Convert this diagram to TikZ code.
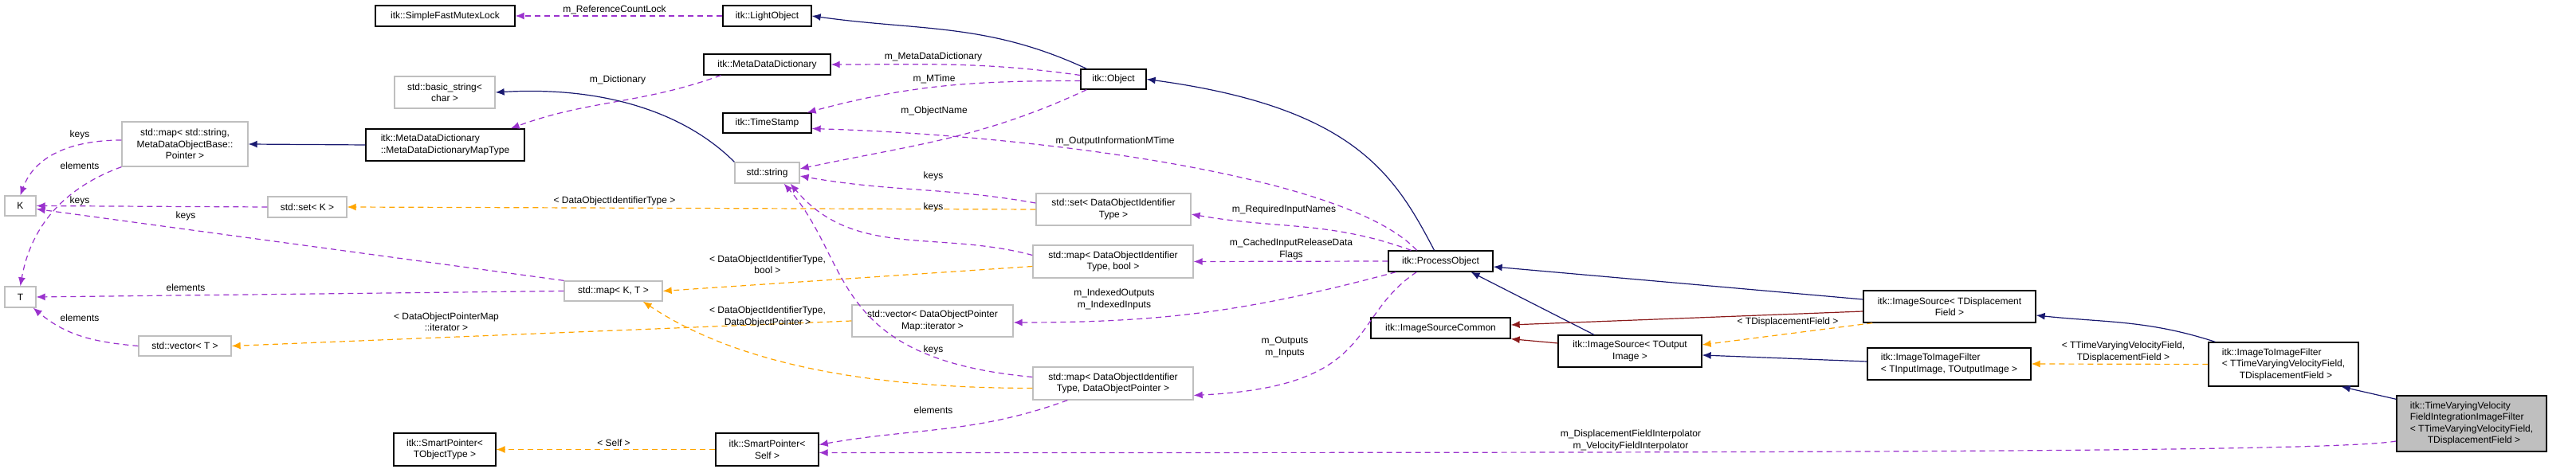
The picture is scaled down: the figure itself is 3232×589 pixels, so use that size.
\documentclass[tikz,border=0pt]{standalone}
\usepackage{fontspec}
\setmainfont{Liberation Sans}
\usetikzlibrary{arrows.meta}
\definecolor{pc}{HTML}{9A32CD}
\definecolor{oc}{HTML}{FFA500}
\definecolor{nc}{HTML}{191970}
\definecolor{rc}{HTML}{8B1A1A}
\definecolor{gc}{HTML}{BFBFBF}
\newcommand\mkbox[7]{\node[#6,minimum width={#4-#2},minimum height={#5-#3}] (#1) at ({(#2+#4)/2},{589-(#3+#5)/2}) {#7};}
\newcommand\mklbl[4]{\node[lbl] (#1) at (#2,{589-#3}) {#4};}
\begin{document}
\begin{tikzpicture}[x=1pt,y=1pt,
  every node/.style={font=\fontsize{12}{14.5}\selectfont,inner sep=0pt,align=center},
  bb/.style={draw=black,line width=1.3pt},
  gb/.style={draw=gc,line width=1.3pt},
  tb/.style={draw=black,line width=1.3pt,fill=gc},
  lbl/.style={},
  tip/.style={-{Latex[length=11pt,width=9pt]}},
  pe/.style={tip,draw=pc,color=pc,line width=1.2pt,dash pattern=on 7pt off 5pt},
  oe/.style={tip,draw=oc,color=oc,line width=1.2pt,dash pattern=on 7pt off 5pt},
  ne/.style={tip,draw=nc,color=nc,line width=1.2pt},
  re/.style={tip,draw=rc,color=rc,line width=1.2pt}]
\useasboundingbox (0,0) rectangle (3232,589);
% nodes
\mkbox{sfml}{471}{7}{646}{33}{bb}{itk::SimpleFastMutexLock}
\mkbox{bs}{495}{96}{621}{136}{gb}{std::basic\_string\textless\\char \textgreater}
\mkbox{smap}{153}{153}{311}{209}{gb}{std::map\textless{} std::string,\\MetaDataObjectBase::\\Pointer \textgreater}
\mkbox{mdd2}{459}{162}{658}{202}{bb,align=left}{\hspace*{0pt}itk::MetaDataDictionary\\::MetaDataDictionaryMapType}
\mkbox{k}{6}{246}{45}{271}{gb}{K}
\mkbox{t}{6}{360}{45}{386}{gb}{T}
\mkbox{setk}{336}{247}{435}{273}{gb}{std::set\textless{} K \textgreater}
\mkbox{vect}{174}{422}{290}{447}{gb}{std::vector\textless{} T \textgreater}
\mkbox{spt}{494}{544}{622}{585}{bb}{itk::SmartPointer\textless\\TObjectType \textgreater}
\mkbox{mapkt}{708}{353}{831}{378}{gb}{std::map\textless{} K, T \textgreater}
\mkbox{lo}{907}{7}{1018}{33}{bb}{itk::LightObject}
\mkbox{mdd}{883}{68}{1042}{94}{bb}{itk::MetaDataDictionary}
\mkbox{obj}{1356}{87}{1438}{112}{bb}{itk::Object}
\mkbox{ts}{907}{142}{1018}{167}{bb}{itk::TimeStamp}
\mkbox{str}{922}{204}{1003}{230}{gb}{std::string}
\mkbox{setd}{1300}{243}{1494}{283}{gb}{std::set\textless{} DataObjectIdentifier\\Type \textgreater}
\mkbox{mapb}{1296}{308}{1497}{349}{gb}{std::map\textless{} DataObjectIdentifier\\Type, bool \textgreater}
\mkbox{vecd}{1069}{383}{1271}{423}{gb}{std::vector\textless{} DataObjectPointer\\Map::iterator \textgreater}
\mkbox{mapd}{1296}{461}{1497}{502}{gb}{std::map\textless{} DataObjectIdentifier\\Type, DataObjectPointer \textgreater}
\mkbox{spself}{898}{544}{1027}{585}{bb}{itk::SmartPointer\textless\\Self \textgreater}
\mkbox{po}{1742}{315}{1873}{341}{bb}{itk::ProcessObject}
\mkbox{isc}{1720}{399}{1895}{425}{bb}{itk::ImageSourceCommon}
\mkbox{iso}{1955}{421}{2135}{461}{bb}{itk::ImageSource\textless{} TOutput\\Image \textgreater}
\mkbox{isd}{2338}{365}{2554}{405}{bb}{itk::ImageSource\textless{} TDisplacement\\Field \textgreater}
\mkbox{itf}{2343}{437}{2548}{477}{bb,align=left}{itk::ImageToImageFilter\\\textless{} TInputImage, TOutputImage \textgreater}
\mkbox{itf2}{2771}{430}{2959}{485}{bb,align=left}{itk::ImageToImageFilter\\\textless{} TTimeVaryingVelocityField,\\\hspace*{22pt}TDisplacementField \textgreater}
\mkbox{tv}{3007}{497}{3195}{567}{tb,align=left}{itk::TimeVaryingVelocity\\FieldIntegrationImageFilter\\\textless{} TTimeVaryingVelocityField,\\\hspace*{22pt}TDisplacementField \textgreater}
% edges
\draw[pe] (lo.west) -- (sfml.east);
\draw[ne] ([xshift=8]obj.north west) to[out=155,in=-8] (lo.east);
\draw[pe] ([yshift=5]obj.west) to[out=172,in=0] (mdd.east);
\draw[pe] ([yshift=-2]obj.west) to[out=180,in=15] ([xshift=-6]ts.north east);
\draw[pe] ([xshift=8]obj.south west) to[out=205,in=12] ([yshift=5]str.east);
\draw[pe] ([xshift=22]mdd.south west) to[out=200,in=20] ([xshift=-18]mdd2.north east);
\draw[ne] (str.north west) .. controls +(-60,60) and +(140,8) .. (bs.east);
\draw[ne] (mdd2.west) -- (smap.east);
\draw[pe] ([yshift=5]smap.west) to[out=180,in=70] (k.north);
\draw[pe] (smap.south west) to[out=200,in=80] (t.north);
\draw[pe] (setk.west) -- (k.east);
\draw[pe] (mapkt.north west) -- ([yshift=-4]k.east);
\draw[pe] (mapkt.west) -- (t.east);
\draw[pe] (vect.west) to[out=175,in=-40] ([xshift=-4]t.south east);
\draw[oe] (setd.west) -- (setk.east);
\draw[pe] ([yshift=8]setd.west) to[out=170,in=-10] ([yshift=-4]str.east);
\draw[pe] ([yshift=8]mapb.west) to[out=165,in=-50] ([xshift=-12]str.south east);
\draw[oe] ([yshift=-6]mapb.west) -- (mapkt.east);
\draw[oe] ([yshift=-6]mapd.west) .. controls +(-200,0) and +(120,-80) .. ([xshift=-25]mapkt.south east);
\draw[oe] (vecd.west) -- (vect.east);
\draw[pe] ([yshift=8]mapd.west) .. controls (1040,{589-450}) and (1070,{589-330}) .. ([xshift=-20]str.south east);
\draw[pe] ([xshift=44]mapd.south west) to[out=200,in=10] ([yshift=6]spself.east);
\draw[oe] (spself.west) -- (spt.east);
\draw[ne] ([xshift=-8]po.north) .. controls (1750,{589-220}) and (1700,{589-135}) .. (obj.east);
\draw[pe] ([xshift=-30]po.north) .. controls (1690,{589-220}) and (1300,{589-170}) .. ([yshift=-7]ts.east);
\draw[pe] ([xshift=-37]po.north) to[out=160,in=-10] ([yshift=-6]setd.east);
\draw[pe] (po.west) -- (mapb.east);
\draw[pe] ([xshift=10]po.south west) to[out=195,in=0] ([yshift=-2]vecd.east);
\draw[pe] ([xshift=36]po.south west) .. controls (1690,{589-400}) and (1730,{589-485}) .. ([yshift=-15]mapd.east);
\draw[ne] ([xshift=-45]iso.north) -- ([xshift=38]po.south);
\draw[re] ([yshift=10]iso.west) -- (isc.south east);
\draw[ne] ([yshift=9]isd.west) -- ([yshift=-7]po.east);
\draw[re] ([yshift=-6]isd.west) -- ([yshift=4]isc.east);
\draw[oe] ([xshift=12]isd.south west) -- ([yshift=8]iso.east);
\draw[ne] ([yshift=3]itf.west) -- ([yshift=-5]iso.east);
\draw[ne] ([xshift=9]itf2.north west) to[out=162,in=-6] ([yshift=-11]isd.east);
\draw[oe] (itf2.west) -- (itf.east);
\draw[ne] ([yshift=-5]tv.north west) -- ([xshift=-22]itf2.south east);
\draw[pe] ([yshift=-22]tv.west) .. controls +(-80,-14) and +(1200,0) .. ([yshift=-4]spself.east);
% labels
\mklbl{l1}{771}{12}{m\_ReferenceCountLock}
\mklbl{l3}{1171}{71}{m\_MetaDataDictionary}
\mklbl{l4}{1172}{99}{m\_MTime}
\mklbl{l5}{1172}{139}{m\_ObjectName}
\mklbl{l6}{775}{100}{m\_Dictionary}
\mklbl{l9}{100}{169}{keys}
\mklbl{l10}{100}{208}{elements}
\mklbl{l11}{100}{252}{keys}
\mklbl{l12}{233}{271}{keys}
\mklbl{l13}{233}{361}{elements}
\mklbl{l14}{100}{399}{elements}
\mklbl{l15}{771}{252}{\textless{} DataObjectIdentifierType \textgreater}
\mklbl{l16}{1171}{221}{keys}
\mklbl{l17}{1171}{260}{keys}
\mklbl{l18}{963}{332}{\textless{} DataObjectIdentifierType,\\bool \textgreater}
\mklbl{l19}{963}{398}{\textless{} DataObjectIdentifierType,\\DataObjectPointer \textgreater}
\mklbl{l20}{560}{404}{\textless{} DataObjectPointerMap\\::iterator \textgreater}
\mklbl{l21}{1171}{439}{keys}
\mklbl{l22}{1171}{515}{elements}
\mklbl{l23}{770}{556}{\textless{} Self \textgreater}
\mklbl{l25}{1399}{177}{m\_OutputInformationMTime}
\mklbl{l26}{1611}{263}{m\_RequiredInputNames}
\mklbl{l27}{1620}{313}{m\_CachedInputReleaseData\\Flags}
\mklbl{l28}{1398}{376}{m\_IndexedOutputs\\m\_IndexedInputs}
\mklbl{l29}{1612}{436}{m\_Outputs\\m\_Inputs}
\mklbl{l34}{2243}{404}{\textless{} TDisplacementField \textgreater}
\mklbl{l37}{2664}{442}{\textless{} TTimeVaryingVelocityField,\\TDisplacementField \textgreater}
\mklbl{l39}{2046}{553}{m\_DisplacementFieldInterpolator\\m\_VelocityFieldInterpolator}
\end{tikzpicture}
\end{document}
